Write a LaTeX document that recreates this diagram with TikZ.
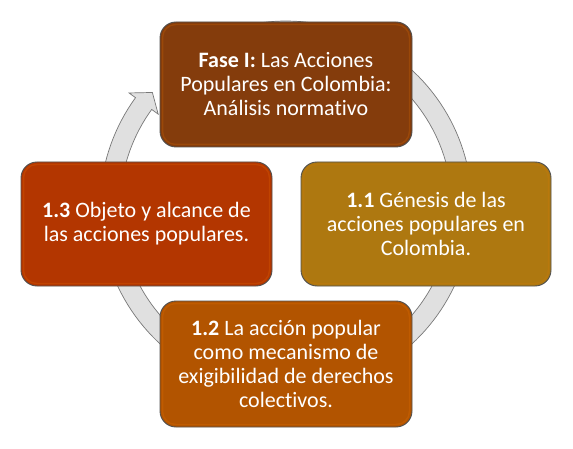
\documentclass[tikz,border=0pt]{standalone}
\usepackage{fontspec}
\setmainfont{Carlito}[Ligatures=NoCommon]
\definecolor{cTop}{RGB}{132,60,12}
\definecolor{cLeft}{RGB}{179,54,0}
\definecolor{cRight}{RGB}{174,120,16}
\definecolor{cBottom}{RGB}{178,84,0}
\definecolor{ringFill}{RGB}{224,224,224}
\definecolor{ringLine}{RGB}{120,120,120}
\definecolor{boxLine}{RGB}{80,80,80}
\begin{document}
\begin{tikzpicture}[x=1pt,y=-1pt,
  box/.style={draw=boxLine, line width=0.9pt, rounded corners=16pt,
    minimum width=252pt, minimum height=125pt, inner sep=0pt,
    text=white, align=center, font=\fontsize{22}{24}\selectfont},
  bevel/.style={draw=#1, line width=1.4pt, rounded corners=13pt, opacity=0.45},
  ring/.style={fill=ringFill, draw=ringLine, line width=0.7pt, line join=miter}]
\useasboundingbox (0,0) rectangle (573,449);
\fill[white] (0,0) rectangle (573,449);
% circular arrow
\filldraw[ring]
  plot[domain=-110:216, samples=160] ({286+186*cos(\x)},{207+186*sin(\x)})
  -- ({286+194*cos(216)},{207+194*sin(216)})
  -- ({286+176*cos(220.6)},{207+176*sin(220.6)})
  -- ({286+158*cos(216)},{207+158*sin(216)})
  -- plot[domain=216:-110, samples=160] ({286+166*cos(\x)},{207+166*sin(\x)})
  -- cycle;
% boxes
\node[box, fill=cTop] (fase) at (286,84.5)
  {\textbf{Fase I:} Las Acciones\\Populares en Colombia:\\Análisis normativo};
\node[box, fill=cRight, minimum width=250pt, minimum height=124pt] (genesis) at (426,224)
  {\textbf{1.1} Génesis de las\\acciones populares en\\Colombia.};
\node[box, fill=cBottom, minimum height=126pt] (accion) at (286,364)
  {\textbf{1.2} La acción popular\\como mecanismo de\\exigibilidad de derechos\\colectivos.};
\node[box, fill=cLeft, minimum width=251pt, minimum height=124pt] (objeto) at (146.5,224)
  {\textbf{1.3} Objeto y alcance de\\las acciones populares.};
% bevel highlights
\draw[bevel=cTop!60!orange] ([shift={(3,3)}]fase.north west) rectangle ([shift={(-3,-3)}]fase.south east);
\draw[bevel=cRight!70!orange] ([shift={(3,3)}]genesis.north west) rectangle ([shift={(-3,-3)}]genesis.south east);
\draw[bevel=cBottom!60!orange] ([shift={(3,3)}]accion.north west) rectangle ([shift={(-3,-3)}]accion.south east);
\draw[bevel=cLeft!60!orange] ([shift={(3,3)}]objeto.north west) rectangle ([shift={(-3,-3)}]objeto.south east);
\end{tikzpicture}
\end{document}
